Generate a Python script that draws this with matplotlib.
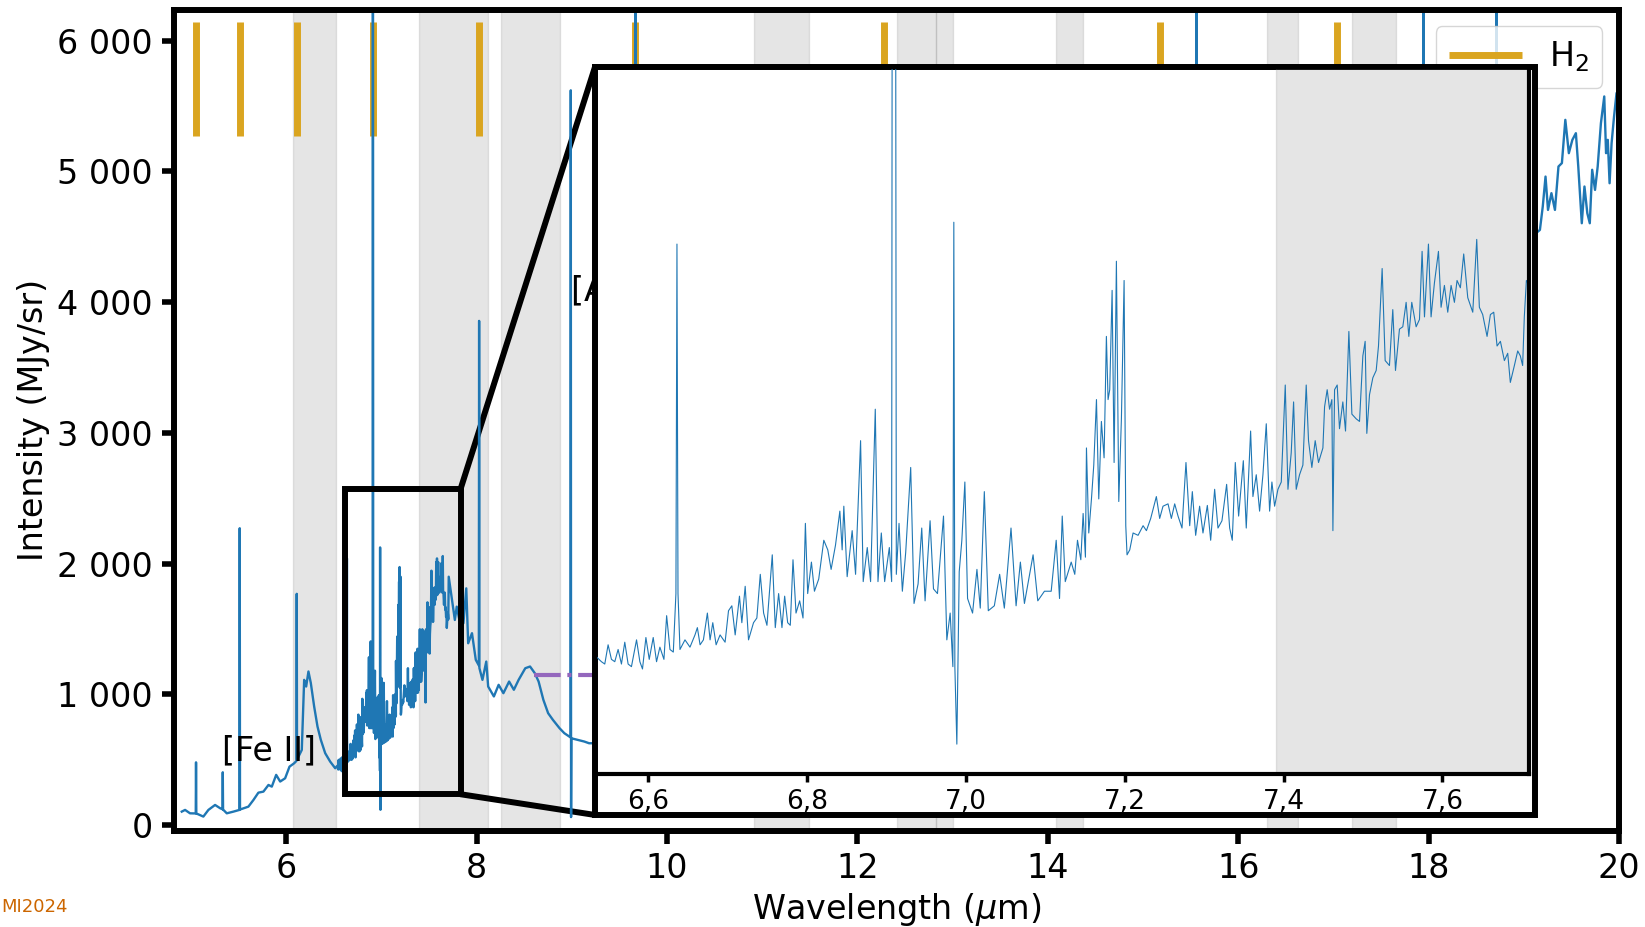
import numpy as np
import matplotlib
matplotlib.use("Agg")
import matplotlib.pyplot as plt
from matplotlib.patches import Rectangle, ConnectionPatch
from matplotlib.ticker import FuncFormatter

# --- spectrum: wavelength (um) / intensity (MJy/sr) ---
# short-wavelength part, left of the zoom box
wl_short = [4.901, 4.936, 4.988, 5.048, 5.051, 5.054, 5.128, 5.181, 5.251, 5.304,
            5.329, 5.332, 5.335, 5.374, 5.444, 5.507, 5.510, 5.513, 5.601, 5.654,
            5.706, 5.759, 5.812, 5.847, 5.893, 5.935, 5.987, 6.033, 6.082, 6.106,
            6.109, 6.112, 6.162, 6.187, 6.208, 6.232, 6.257, 6.292, 6.327, 6.362,
            6.408, 6.460, 6.513]
int_short = [102, 115, 89, 88, 479, 88, 64, 115, 153, 128,
             120, 403, 118, 89, 102, 115, 2270, 118, 140, 191,
             247, 255, 306, 293, 383, 332, 357, 446, 472, 490,
             1768, 500, 574, 1110, 1059, 1174, 1085, 906, 753, 651,
             549, 485, 434]

# detailed part shown in the inset (6.53 - 7.71 um)
wl_zoom = [6.5347, 6.5411, 6.5453, 6.5495, 6.5537, 6.5579, 6.5621, 6.5663, 6.5705, 6.5747,
           6.5789, 6.5853, 6.5895, 6.5928, 6.5971, 6.6013, 6.6063, 6.6105, 6.6147, 6.6198,
           6.6232, 6.6274, 6.6316, 6.6349, 6.6362, 6.6375, 6.6400, 6.6463, 6.6526, 6.6589,
           6.6619, 6.6653, 6.6695, 6.6745, 6.6779, 6.6813, 6.6855, 6.6905, 6.6968, 6.7011,
           6.7053, 6.7095, 6.7149, 6.7179, 6.7221, 6.7263, 6.7326, 6.7368, 6.7411, 6.7453,
           6.7495, 6.7562, 6.7600, 6.7642, 6.7684, 6.7718, 6.7756, 6.7789, 6.7823, 6.7861,
           6.7907, 6.7949, 6.7979, 6.8008, 6.8055, 6.8093, 6.8147, 6.8211, 6.8261, 6.8303,
           6.8358, 6.8413, 6.8442, 6.8463, 6.8505, 6.8568, 6.8611, 6.8632, 6.8674, 6.8707,
           6.8758, 6.8800, 6.8859, 6.8893, 6.8935, 6.8977, 6.9036, 6.9065, 6.9082, 6.9103,
           6.9124, 6.9158, 6.9200, 6.9242, 6.9305, 6.9347, 6.9398, 6.9444, 6.9486, 6.9549,
           6.9592, 6.9642, 6.9718, 6.9760, 6.9802, 6.9836, 6.9848, 6.9861, 6.9886, 6.9916,
           6.9949, 6.9987, 7.0021, 7.0084, 7.0139, 7.0181, 7.0232, 7.0282, 7.0358, 7.0425,
           7.0484, 7.0568, 7.0632, 7.0686, 7.0737, 7.0846, 7.0905, 7.0989, 7.1074, 7.1137,
           7.1179, 7.1213, 7.1251, 7.1326, 7.1371, 7.1405, 7.1447, 7.1476, 7.1505, 7.1518,
           7.1547, 7.1581, 7.1610, 7.1644, 7.1673, 7.1706, 7.1740, 7.1769, 7.1790, 7.1811,
           7.1841, 7.1866, 7.1895, 7.1925, 7.1958, 7.1992, 7.2013, 7.2029, 7.2063, 7.2105,
           7.2168, 7.2231, 7.2273, 7.2327, 7.2398, 7.2440, 7.2482, 7.2545, 7.2587, 7.2629,
           7.2671, 7.2721, 7.2771, 7.2818, 7.2851, 7.2893, 7.2943, 7.2985, 7.3040, 7.3082,
           7.3132, 7.3174, 7.3224, 7.3283, 7.3321, 7.3354, 7.3392, 7.3434, 7.3493, 7.3530,
           7.3585, 7.3614, 7.3656, 7.3698, 7.3740, 7.3782, 7.3824, 7.3853, 7.3887, 7.3929,
           7.3971, 7.4021, 7.4055, 7.4096, 7.4126, 7.4159, 7.4201, 7.4243, 7.4285, 7.4314,
           7.4356, 7.4398, 7.4440, 7.4495, 7.4516, 7.4549, 7.4579, 7.4608, 7.4621, 7.4642,
           7.4675, 7.4704, 7.4746, 7.4780, 7.4822, 7.4860, 7.4914, 7.4956, 7.4998, 7.5027,
           7.5048, 7.5082, 7.5124, 7.5166, 7.5195, 7.5241, 7.5279, 7.5333, 7.5375, 7.5409,
           7.5459, 7.5501, 7.5543, 7.5577, 7.5614, 7.5669, 7.5711, 7.5744, 7.5774, 7.5824,
           7.5857, 7.5899, 7.5950, 7.5983, 7.6025, 7.6067, 7.6109, 7.6151, 7.6184, 7.6226,
           7.6268, 7.6319, 7.6382, 7.6432, 7.6465, 7.6507, 7.6562, 7.6604, 7.6646, 7.6688,
           7.6730, 7.6780, 7.6822, 7.6855, 7.6906, 7.6948, 7.6981, 7.7010, 7.7031, 7.7057]
int_zoom = [452, 433, 424, 498, 442, 433, 480, 424, 508, 424,
            414, 517, 433, 405, 526, 442, 526, 433, 489, 442,
            610, 480, 470, 695, 2039, 695, 480, 517, 489, 536,
            564, 498, 517, 620, 517, 583, 498, 536, 508, 629,
            648, 536, 685, 583, 723, 517, 583, 601, 769, 620,
            573, 844, 564, 695, 564, 685, 583, 573, 825, 620,
            667, 601, 965, 695, 816, 704, 751, 900, 863, 788,
            881, 1012, 863, 1031, 760, 937, 769, 947, 1283, 741,
            872, 741, 1404, 741, 928, 741, 872, 741, 6500, 6500,
            769, 965, 704, 853, 1180, 657, 732, 947, 667, 975,
            713, 695, 993, 517, 620, 414, 2123, 414, 116, 779,
            900, 1124, 676, 620, 788, 639, 1087, 629, 648, 769,
            639, 947, 648, 816, 657, 844, 667, 704, 704, 900,
            676, 993, 741, 816, 769, 900, 825, 1003, 835, 1255,
            928, 1059, 1189, 1441, 1059, 1357, 1217, 1684, 1441, 1479,
            1861, 1199, 1973, 1049, 1367, 1899, 956, 844, 863, 928,
            919, 956, 937, 984, 1068, 984, 1031, 1040, 984, 1040,
            993, 947, 1199, 956, 1087, 919, 1031, 928, 1034, 900,
            1096, 947, 975, 1115, 947, 900, 1199, 993, 1206, 947,
            1320, 1068, 1152, 1012, 1152, 1348, 1012, 1124, 1031, 1096,
            1124, 1497, 1096, 1236, 1432, 1096, 1152, 1189, 1497, 1283,
            1180, 1283, 1199, 1255, 1413, 1479, 1404, 1441, 937, 1479,
            1497, 1329, 1432, 1320, 1703, 1385, 1367, 1357, 1609, 1665,
            1311, 1460, 1525, 1553, 1647, 1945, 1591, 1572, 1787, 1553,
            1712, 1721, 1815, 1684, 1815, 1721, 1749, 2011, 1759, 2039,
            1759, 1889, 2011, 1796, 1880, 1777, 1880, 1815, 1899, 1871,
            2001, 1833, 1777, 2057, 1796, 1768, 1684, 1768, 1777, 1647,
            1665, 1591, 1619, 1507, 1572, 1628, 1609, 1572, 1759, 1899]

# right of the zoom box, up to the inset
wl_mid = [7.74, 7.77, 7.79, 7.82, 7.86, 7.89, 7.91, 7.95, 7.99, 8.022,
          8.025, 8.028, 8.06, 8.10, 8.12, 8.18, 8.23, 8.28, 8.34, 8.39,
          8.44, 8.51, 8.56, 8.61, 8.65, 8.70, 8.75, 8.80, 8.87, 8.92,
          8.985, 8.988, 8.991, 8.994, 9.06, 9.13, 9.18]
int_mid = [1721, 1568, 1670, 1560, 1543, 1810, 1390, 1467, 1263, 1220,
           3856, 1200, 1110, 1250, 1059, 983, 1072, 1008, 1097, 1034,
           1110, 1199, 1212, 1161, 1097, 957, 855, 804, 740, 702,
           670, 5620, 60, 663, 651, 638, 625]

# behind the inset (only the tall line peaks show above it)
wl_hidden = [9.25, 9.40, 9.665, 9.668, 9.671, 10.0, 10.5, 11.0, 11.5, 12.0,
             12.5, 13.0, 13.5, 14.0, 14.5, 15.0, 15.559, 15.562, 15.565, 16.0,
             16.5, 17.0, 17.5, 17.942, 17.945, 17.948, 18.5, 18.710, 18.713, 18.716,
             19.0]
int_hidden = [625, 640, 690, 7000, 690, 720, 790, 930, 1100, 1350,
              1600, 1850, 2150, 2450, 2750, 3000, 3250, 8000, 3250, 3450,
              3700, 3900, 4050, 4200, 8000, 4200, 4350, 4400, 8000, 4400,
              4450]

# right of the inset
wl_long = [19.169, 19.199, 19.228, 19.254, 19.290, 19.327, 19.364, 19.400, 19.436, 19.473,
           19.510, 19.547, 19.572, 19.609, 19.637, 19.667, 19.693, 19.718, 19.748, 19.776,
           19.810, 19.845, 19.864, 19.882, 19.901, 19.922, 19.948, 19.974, 20.05]
int_long = [4552, 4731, 4960, 4705, 4833, 4705, 5037, 5063, 5394, 5139,
            5241, 5292, 5037, 4603, 4884, 4680, 4603, 5012, 4858, 5037,
            5369, 5573, 5139, 5241, 4909, 5215, 5420, 5599, 5650]

# H2 rotational lines (markers at the top)
h2_wl = [5.053, 5.511, 6.109, 6.910, 8.025, 9.665, 12.279, 15.18, 17.035]
h2_lo, h2_hi = 5270, 6140

# shaded wavelength ranges
band_lo = [6.07, 7.39, 8.25, 10.91, 12.41, 12.82, 14.09, 16.30, 17.19]
band_hi = [6.52, 8.12, 8.87, 11.49, 12.82, 13.00, 14.37, 16.63, 17.66]

# dash-dot level
level_wl = [8.60, 11.0]
level_int = [1148, 1148]

# line labels: text, x, y (baseline)
label_txt = ["[Fe II]", "[Ar III]"]
label_x = [5.325, 8.985]
label_y = [497, 4010]

BLUE = "#1f77b4"
GOLD = "#DAA520"

wl = np.array(wl_short + wl_zoom + wl_mid + wl_hidden + wl_long)
inten = np.array(int_short + int_zoom + int_mid + int_hidden + int_long)

thou = FuncFormatter(lambda v, p: f"{int(round(v)):,}".replace(",", " "))
comma = FuncFormatter(lambda v, p: f"{v:.1f}".replace(".", ","))

fig = plt.figure(figsize=(16.45, 9.27), dpi=100)
ax = fig.add_axes([0.1058, 0.1036, 0.8784, 0.8860])

for lo, hi in zip(band_lo, band_hi):
    ax.axvspan(lo, hi, color="gray", alpha=0.2)
ax.vlines(h2_wl, h2_lo, h2_hi, color=GOLD, lw=5, label="H$_2$")
ax.plot(wl, inten, color=BLUE, lw=1.7)
ax.plot(level_wl, level_int, color="#9467bd", lw=3, ls="-.")
for t, x, y in zip(label_txt, label_x, label_y):
    ax.text(x, y, t, fontsize=24, va="baseline")

ax.set_xlim(4.82, 20.0)
ax.set_ylim(-46, 6237)
ax.set_xticks(np.arange(6, 21, 2))
ax.set_yticks(np.arange(0, 6001, 1000))
ax.yaxis.set_major_formatter(thou)
ax.tick_params(labelsize=24, length=9, width=4, pad=6.5)
for s in ax.spines.values():
    s.set_linewidth(4.3)
ax.set_xlabel("Wavelength ($\\mu$m)", fontsize=24)
ax.set_ylabel("Intensity (MJy/sr)", fontsize=24)
ax.xaxis.set_label_coords(0.5, -0.073)
ax.yaxis.set_label_coords(-0.0858, 0.5)
ax.legend(loc="upper right", fontsize=24, handlelength=2.2)

# zoom box on the main axes
zx0, zx1, zy0, zy1 = 6.62, 7.83, 235, 2570
ax.add_patch(Rectangle((zx0, zy0), zx1 - zx0, zy1 - zy0, fill=False,
                       ec="black", lw=4.3, zorder=5))

# inset
axins = fig.add_axes([0.3617, 0.16473, 0.56778, 0.76300])
for lo, hi in zip(band_lo, band_hi):
    axins.axvspan(lo, hi, color="gray", alpha=0.2)
axins.plot(wl, inten, color=BLUE, lw=0.8)
axins.set_xlim(6.533, 7.709)
axins.set_ylim(0, 2720)
axins.set_yticks([])
axins.set_xticks([6.6, 6.8, 7.0, 7.2, 7.4, 7.6])
axins.xaxis.set_major_formatter(comma)
axins.tick_params(labelsize=19, length=6, width=2.5, pad=4.5)
for s in axins.spines.values():
    s.set_linewidth(3)
fb = -0.0575
axins.add_patch(Rectangle((0, fb), 1.0064, 1 - fb, transform=axins.transAxes,
                          fc="white", ec="black", lw=4.3, clip_on=False, zorder=0))

for ya, yb in [(zy1, 1.0), (zy0, fb)]:
    con = ConnectionPatch(xyA=(zx1, ya), coordsA=ax.transData,
                          xyB=(0, yb), coordsB=axins.transAxes,
                          color="black", lw=4.3)
    ax.add_artist(con)

fig.text(0.001, 1 - 907 / 927, "MI2024", ha="left", va="center",
         fontsize=13, color="#cc6600")

fig.savefig("out.png", dpi=100)
